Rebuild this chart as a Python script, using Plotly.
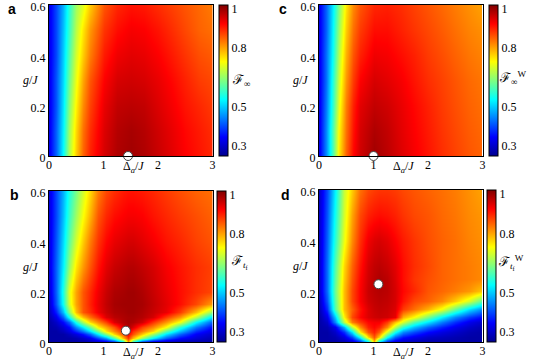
import plotly.graph_objects as go

# ---------------- data ----------------
A_X = [0, 0.125, 0.25, 0.375, 0.5, 0.625, 0.75, 1, 1.25, 1.5, 1.75, 2, 2.25, 2.5, 2.75, 3]
A_Y = [0, 0.1, 0.2, 0.3, 0.4, 0.5, 0.6]
A_Z = [
    [.33, .42, .54, .67, .77, .85, .90, .955, .985, .995, .985, .965, .945, .925, .91, .895],
    [.33, .42, .53, .66, .76, .84, .89, .95, .98, .99, .98, .96, .94, .92, .905, .89],
    [.33, .41, .52, .64, .74, .82, .875, .94, .97, .975, .97, .95, .93, .91, .895, .88],
    [.33, .41, .51, .62, .72, .80, .86, .925, .955, .96, .955, .94, .92, .90, .88, .87],
    [.33, .40, .50, .60, .70, .77, .83, .905, .935, .945, .94, .925, .905, .885, .865, .855],
    [.33, .40, .49, .58, .68, .75, .81, .885, .915, .93, .925, .91, .89, .87, .85, .84],
    [.33, .40, .48, .57, .66, .71, .77, .86, .895, .91, .905, .89, .875, .86, .845, .83],
]

C_X = [0, 0.125, 0.25, 0.375, 0.5, 0.625, 0.75, 1, 1.25, 1.5, 1.75, 2, 2.25, 2.5, 2.75, 3]
C_Y = [0, 0.1, 0.2, 0.3, 0.4, 0.5, 0.6]
C_Z = [
    [.33, .45, .60, .75, .85, .92, .96, .995, .975, .95, .93, .91, .89, .875, .86, .85],
    [.33, .45, .60, .74, .84, .91, .955, .985, .97, .945, .925, .905, .885, .87, .855, .845],
    [.33, .44, .58, .72, .83, .90, .945, .97, .96, .94, .92, .90, .88, .865, .85, .84],
    [.33, .43, .57, .70, .81, .88, .925, .955, .945, .93, .91, .89, .875, .86, .845, .835],
    [.33, .43, .55, .68, .79, .86, .90, .935, .93, .915, .90, .88, .865, .85, .835, .825],
    [.33, .42, .54, .66, .77, .84, .88, .915, .915, .90, .885, .87, .855, .84, .825, .815],
    [.33, .42, .53, .64, .75, .82, .86, .895, .90, .89, .875, .86, .845, .83, .815, .80],
]

B_X = [0, 0.125, 0.25, 0.375, 0.5, 0.625, 0.75, 0.9, 1.05, 1.2, 1.35, 1.45, 1.55, 1.7, 1.9, 2.15, 2.4, 2.7, 3]
B_Y = [0, 0.015, 0.03, 0.045, 0.06, 0.08, 0.1, 0.12, 0.15, 0.2, 0.3, 0.4, 0.5, 0.6]
B_Z = [
    [.27, .27, .27, .27, .27, .27, .28, .29, .31, .35, .52, .80, .55, .36, .30, .28, .27, .27, .27],
    [.27, .27, .27, .27, .28, .30, .33, .40, .47, .60, .78, .88, .78, .66, .53, .42, .35, .31, .28],
    [.27, .27, .27, .29, .32, .36, .42, .53, .64, .76, .86, .93, .86, .77, .66, .52, .42, .34, .30],
    [.27, .27, .29, .32, .38, .44, .52, .63, .75, .82, .89, .96, .89, .83, .76, .61, .49, .38, .32],
    [.27, .28, .31, .35, .45, .53, .62, .74, .80, .86, .95, .985, .95, .875, .82, .73, .57, .44, .35],
    [.27, .30, .35, .42, .56, .67, .76, .82, .875, .95, .98, .99, .985, .96, .885, .81, .72, .54, .41],
    [.28, .33, .42, .55, .70, .78, .84, .89, .95, .975, .985, .99, .99, .98, .955, .88, .81, .68, .51],
    [.29, .37, .49, .64, .78, .86, .89, .935, .965, .985, .99, .995, .995, .985, .965, .94, .88, .78, .64],
    [.30, .41, .55, .70, .80, .86, .90, .94, .97, .99, .995, .995, .995, .99, .97, .945, .915, .87, .80],
    [.31, .42, .56, .71, .80, .86, .895, .935, .965, .985, .99, .995, .995, .985, .965, .94, .915, .89, .87],
    [.32, .42, .53, .65, .75, .81, .86, .91, .945, .965, .975, .98, .98, .97, .955, .93, .91, .89, .875],
    [.32, .41, .51, .61, .70, .77, .83, .885, .92, .94, .95, .955, .955, .945, .93, .91, .895, .875, .86],
    [.32, .40, .49, .58, .66, .73, .79, .86, .895, .915, .925, .93, .93, .925, .91, .895, .88, .865, .85],
    [.32, .40, .48, .56, .63, .70, .76, .83, .87, .89, .905, .91, .91, .905, .895, .88, .865, .85, .84],
]

D_X = [0, 0.15, 0.3, 0.45, 0.6, 0.75, 0.9, 1.0, 1.1, 1.25, 1.4, 1.55, 1.75, 2.0, 2.25, 2.5, 2.75, 3]
D_Y = [0, 0.02, 0.04, 0.06, 0.08, 0.1, 0.13, 0.16, 0.2, 0.25, 0.3, 0.4, 0.5, 0.6]
D_Z = [
    [.27, .27, .27, .28, .30, .36, .50, .78, .50, .36, .31, .29, .28, .27, .27, .27, .27, .27],
    [.27, .27, .28, .32, .40, .55, .76, .86, .76, .55, .42, .36, .33, .30, .29, .28, .27, .27],
    [.27, .27, .30, .38, .52, .74, .86, .90, .85, .70, .55, .45, .40, .35, .32, .30, .28, .27],
    [.27, .28, .33, .48, .68, .82, .90, .92, .90, .82, .68, .57, .49, .42, .37, .33, .30, .28],
    [.27, .30, .45, .68, .83, .88, .92, .93, .93, .88, .78, .70, .60, .52, .44, .38, .33, .30],
    [.27, .33, .50, .74, .87, .92, .95, .96, .965, .96, .94, .79, .73, .63, .53, .45, .39, .35],
    [.28, .38, .60, .78, .85, .91, .95, .965, .97, .965, .95, .88, .84, .79, .72, .62, .52, .45],
    [.29, .41, .61, .78, .87, .925, .96, .97, .975, .97, .955, .91, .87, .85, .82, .77, .70, .60],
    [.30, .43, .62, .78, .87, .925, .965, .975, .98, .975, .955, .92, .895, .86, .845, .83, .81, .77],
    [.30, .43, .61, .77, .86, .92, .96, .975, .985, .975, .95, .915, .885, .865, .85, .84, .83, .82],
    [.30, .43, .60, .76, .85, .91, .955, .97, .975, .965, .945, .915, .89, .87, .85, .84, .83, .82],
    [.30, .42, .57, .72, .82, .89, .935, .95, .955, .945, .925, .905, .885, .865, .85, .84, .825, .815],
    [.30, .41, .55, .70, .80, .87, .90, .91, .915, .91, .90, .885, .87, .86, .845, .835, .82, .81],
    [.30, .40, .53, .69, .77, .84, .87, .88, .885, .885, .88, .87, .86, .85, .84, .83, .815, .80],
]

# optimal points (white dots)
DOT_A = (1.45, 0.0)
DOT_B = (1.41, 0.045)
DOT_C = (1.0, 0.0)
DOT_D = (1.09, 0.228)

X_TICKS = [0, 1, 2, 3]
Y_TICKS = [0, 0.2, 0.4, 0.6]
Y_TICKTEXT = ["0", "0.2", "0.4", "0.6"]
CB_TICKS = [0.3, 0.5, 0.8, 1]
CB_TICKTEXT = ["0.3", "0.5", "0.8", "1"]
LETTERS = ["a", "b", "c", "d"]
CB_LABELS = ["ℱ<sub>∞</sub>", "ℱ<sub><i>t</i><sub>f</sub></sub>",
             "ℱ<sub>∞</sub><sup>W</sup>", "ℱ<sub><i>t</i><sub>f</sub></sub><sup>W</sup>"]

# ---------------- styling ----------------
W, H = 540, 360
SERIF = "Liberation Serif, Times New Roman, serif"
JET = [[0.0, "rgb(0,0,143)"], [0.125, "rgb(0,0,255)"], [0.375, "rgb(0,255,255)"],
       [0.625, "rgb(255,255,0)"], [0.875, "rgb(255,0,0)"], [1.0, "rgb(128,0,0)"]]
ZMIN, ZMAX = 0.25, 1.02


def px_x(p):
    return p / W


def px_y(p):
    return 1 - p / H


# plot rectangles in pixels: (left, right, top, bottom), colorbar left, label pos, letter pos
panels = [
    dict(X=A_X, Y=A_Y, Z=A_Z, dot=DOT_A, rect=(49, 212.5, 5, 156), cb=219, lab=(241, 80), let=(12, 9)),
    dict(X=B_X, Y=B_Y, Z=B_Z, dot=DOT_B, rect=(49, 212.5, 191, 342), cb=217, lab=(240, 262), let=(14, 195)),
    dict(X=C_X, Y=C_Y, Z=C_Z, dot=DOT_C, rect=(319, 482.5, 5, 156), cb=489, lab=(512, 78), let=(283, 9)),
    dict(X=D_X, Y=D_Y, Z=D_Z, dot=DOT_D, rect=(319, 482.5, 190, 342), cb=487, lab=(511, 262), let=(285, 195)),
]

fig = go.Figure()
annotations = []
layout = dict(width=W, height=H, margin=dict(l=0, r=0, t=0, b=0, autoexpand=False),
              paper_bgcolor="white", plot_bgcolor="white", showlegend=False)

for i, p in enumerate(panels):
    k = "" if i == 0 else str(i + 1)
    xr, yr = "x" + k, "y" + k
    l, r, t, b = p["rect"]
    layout["xaxis" + k] = dict(domain=[px_x(l), px_x(r)], range=[0, 3], anchor=yr,
                               tickvals=X_TICKS, ticks="", showgrid=False, zeroline=False,
                               showline=True, mirror=True, linecolor="black", linewidth=1,
                               ticklabelstandoff=-2, automargin=False, ticklabeloverflow="allow",
                               tickfont=dict(family=SERIF, size=12, color="black"))
    layout["yaxis" + k] = dict(domain=[px_y(b), px_y(t)], range=[0, 0.6], anchor=xr,
                               tickvals=Y_TICKS, ticktext=Y_TICKTEXT, ticks="", showgrid=False,
                               zeroline=False, showline=True, mirror=True, linecolor="black",
                               linewidth=1, automargin=False, ticklabeloverflow="allow",
                               ticklabelshift=2,
                               tickfont=dict(family=SERIF, size=12, color="black"))
    fig.add_trace(go.Heatmap(
        x=p["X"], y=p["Y"], z=p["Z"], zsmooth="best", colorscale=JET, zmin=ZMIN, zmax=ZMAX,
        xaxis=xr, yaxis=yr, hoverinfo="skip",
        colorbar=dict(x=px_x(p["cb"]), xanchor="left", y=px_y(t), yanchor="top",
                      len=(b - t) / H, lenmode="fraction", thickness=9, thicknessmode="pixels",
                      xpad=0, ypad=0, outlinewidth=1, outlinecolor="black",
                      tickvals=CB_TICKS, ticktext=CB_TICKTEXT, ticks="",
                      tickfont=dict(family=SERIF, size=12, color="black"))))
    fig.add_trace(go.Scatter(
        x=[p["dot"][0]], y=[p["dot"][1]], mode="markers", xaxis=xr, yaxis=yr,
        cliponaxis=False, hoverinfo="skip",
        marker=dict(size=9, color="white", line=dict(color="#444", width=1))))
    # axis names placed like tick labels
    annotations.append(dict(xref="paper", yref=yr, x=px_x(l - 9), y=0.3, xanchor="right",
                            yanchor="middle", showarrow=False, text="<i>g</i>/<i>J</i>",
                            font=dict(family=SERIF, size=12, color="black")))
    annotations.append(dict(xref=xr, yref="paper", x=1.55, y=px_y(b + 1), xanchor="center",
                            yanchor="top", showarrow=False, text="Δ<sub><i>a</i></sub>/<i>J</i>",
                            font=dict(family=SERIF, size=12, color="black")))
    # colorbar label
    annotations.append(dict(xref="paper", yref="paper", x=px_x(p["lab"][0]), y=px_y(p["lab"][1]),
                            xanchor="center", yanchor="middle", showarrow=False, text=CB_LABELS[i],
                            font=dict(family=SERIF, size=13, color="black")))
    # panel letter
    annotations.append(dict(xref="paper", yref="paper", x=px_x(p["let"][0]), y=px_y(p["let"][1]),
                            xanchor="center", yanchor="middle", showarrow=False,
                            text="<b>" + LETTERS[i] + "</b>",
                            font=dict(family="Liberation Sans, Arial, sans-serif", size=14, color="black")))

layout["annotations"] = annotations
fig.update_layout(**layout)
fig.write_html("out.html", config={"displayModeBar": False},
               post_script="document.body.style.margin='0';document.body.style.padding='0';"
                           "document.body.style.overflow='hidden';")
